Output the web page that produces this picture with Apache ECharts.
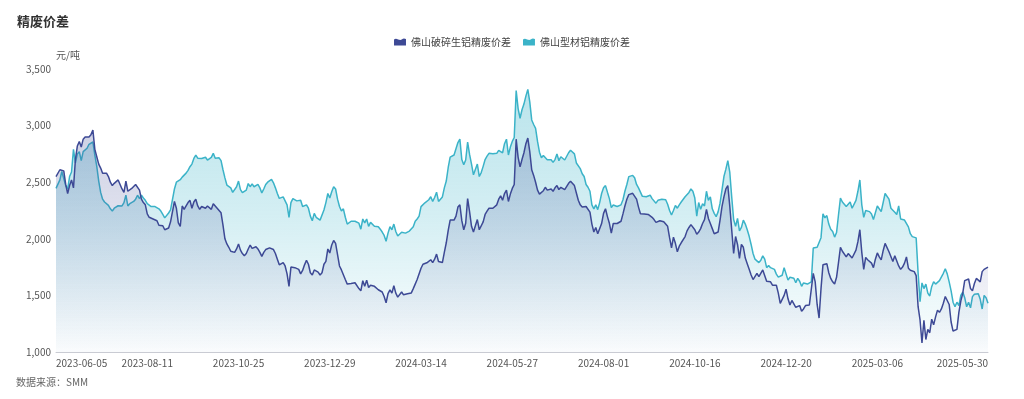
<!DOCTYPE html>
<html>
<head>
<meta charset="utf-8">
<script src="https://cdn.jsdelivr.net/npm/echarts@6/dist/echarts.min.js"></script>
<style>
html,body{margin:0;padding:0;background:#fff;}
#chart{width:1024px;height:399px;}
</style>
</head>
<body>
<div id="chart"></div>
<script>
// trading days, first / last day and exchange holidays
var startDay = '2023-06-05';
var endDay = '2025-05-30';
var holidays = [
	'2023-06-22','2023-06-23','2023-09-29','2023-10-02','2023-10-03','2023-10-04','2023-10-05','2023-10-06',
	'2024-01-01','2024-02-09','2024-02-12','2024-02-13','2024-02-14','2024-02-15','2024-02-16',
	'2024-04-04','2024-04-05','2024-05-01','2024-05-02','2024-05-03','2024-06-10','2024-09-16','2024-09-17',
	'2024-10-01','2024-10-02','2024-10-03','2024-10-04','2024-10-07',
	'2025-01-01','2025-01-28','2025-01-29','2025-01-30','2025-01-31','2025-02-03','2025-02-04',
	'2025-04-04','2025-05-01','2025-05-02','2025-05-05'
];

var seriesNames = ['佛山破碎生铝精废价差', '佛山型材铝精废价差'];

// 佛山破碎生铝精废价差
var brokenData = [
	2550,2540,2610,2620,2600,2480,2400,2470,2520,2450,2700,2820,2860,2810,2880,2900,2890,2900,2920,2960,
	2790,2725,2660,2625,2580,2570,2580,2550,2500,2470,2490,2505,2520,2535,2440,2410,2510,2420,2430,2445,
	2460,2480,2495,2430,2350,2320,2300,2220,2190,2180,2175,2170,2160,2120,2105,2115,2080,2070,2095,2150,
	2165,2330,2270,2140,2110,2290,2260,2290,2320,2340,2270,2325,2350,2290,2260,2285,2280,2270,2290,2300,
	2260,2310,2300,2270,2285,2230,2120,2000,1955,1925,1890,1875,1880,1910,1955,1900,1870,1850,1870,1910,
	1945,1915,1930,1930,1910,1880,1845,1880,1905,1915,1920,1930,1905,1870,1820,1770,1755,1790,1760,1690,
	1580,1750,1740,1745,1755,1730,1690,1720,1770,1810,1775,1700,1680,1725,1735,1705,1680,1700,1775,1800,
	1910,1875,1945,1985,1960,1860,1760,1725,1740,1640,1600,1595,1605,1610,1612,1595,1560,1540,1630,1580,
	1635,1570,1590,1600,1580,1565,1550,1540,1530,1490,1435,1515,1548,1520,1585,1520,1485,1500,1530,1505,
	1518,1515,1515,1522,1560,1600,1640,1655,1740,1775,1785,1788,1800,1815,1790,1820,1865,1800,1785,1790,
	1880,1965,2075,2165,2150,2165,2200,2280,2300,2160,2080,2137,2355,2240,2110,2060,2050,2170,2080,2090,
	2150,2215,2245,2270,2280,2270,2255,2300,2350,2380,2340,2400,2430,2330,2395,2445,2480,2880,2720,2635,
	2700,2760,2840,2890,2770,2610,2560,2500,2430,2395,2400,2425,2455,2430,2445,2440,2420,2450,2470,2435,
	2455,2445,2435,2430,2490,2508,2500,2470,2405,2340,2300,2280,2290,2285,2270,2235,2130,2060,2100,2045,
	2040,2135,2225,2265,2196,2137,2050,2135,2150,2135,2125,2155,2220,2290,2350,2390,2402,2402,2390,2350,
	2280,2222,2212,2220,2215,2215,2222,2190,2170,2145,2160,2160,2150,2150,2145,2110,2010,1920,2015,1960,
	1885,1935,1965,1960,2020,2070,2100,2125,2110,2080,2040,2060,2090,2135,2170,2260,2180,2135,2090,2045,
	2040,2060,2165,2285,2370,2440,2470,2290,2080,1870,2020,1950,1827,1950,1925,1830,1780,1730,1680,1640,
	1651,1695,1665,1680,1725,1735,1625,1610,1620,1590,1580,1590,1520,1430,1440,1500,1555,1470,1415,1455,
	1440,1395,1390,1410,1360,1380,1410,1400,1415,1400,1695,1620,1420,1300,1560,1770,1755,1780,1700,1650,
	1620,1600,1660,1790,1925,1890,1880,1840,1870,1880,1830,1820,1900,1975,2080,1880,1730,1835,1815,1800,
	1785,1745,1820,1875,1840,1813,1895,1960,1960,1886,1880,1800,1850,1840,1760,1730,1750,1785,1840,1740,
	1722,1710,1710,1675,1400,1283,1080,1280,1110,1200,1170,1290,1240,1310,1370,1350,1380,1430,1490,1505,
	1420,1265,1185,1180,1200,1350,1450,1520,1630,1622,1645,1560,1540,1605,1650,1650,1620,1710,1730,1742,1750
];

// 佛山型材铝精废价差
var profileData = [
	2445,2430,2520,2595,2580,2470,2440,2550,2590,2790,2670,2750,2770,2690,2770,2770,2800,2835,2845,2855,
	2740,2640,2510,2410,2350,2325,2315,2295,2265,2245,2270,2283,2292,2300,2290,2320,2385,2290,2310,2320,
	2330,2350,2385,2355,2385,2360,2340,2310,2295,2285,2285,2285,2283,2265,2245,2215,2185,2180,2228,2255,
	2265,2440,2500,2510,2522,2545,2558,2580,2605,2637,2660,2710,2740,2712,2722,2710,2705,2720,2696,2684,
	2720,2755,2711,2720,2715,2690,2610,2538,2475,2466,2450,2410,2420,2460,2510,2435,2408,2415,2430,2488,
	2460,2485,2460,2465,2480,2450,2405,2440,2480,2500,2515,2525,2495,2450,2400,2357,2345,2370,2360,2300,
	2190,2320,2355,2345,2335,2330,2340,2285,2298,2300,2270,2200,2160,2225,2190,2175,2165,2180,2255,2320,
	2400,2360,2416,2460,2440,2350,2285,2245,2265,2190,2130,2145,2155,2160,2155,2150,2138,2085,2175,2140,
	2175,2110,2145,2130,2110,2095,2107,2085,2060,2030,1978,2050,2107,2080,2130,2065,2025,2035,2058,2075,
	2050,2058,2068,2080,2107,2155,2175,2200,2284,2297,2318,2335,2345,2372,2330,2365,2412,2330,2335,2370,
	2450,2510,2630,2722,2713,2740,2745,2850,2880,2700,2655,2696,2855,2745,2660,2565,2560,2660,2550,2585,
	2640,2700,2730,2755,2768,2752,2742,2755,2782,2795,2760,2840,2880,2740,2810,2860,2895,3310,3150,3065,
	3140,3190,3260,3320,3210,3050,3010,2975,2860,2765,2715,2735,2720,2698,2710,2698,2675,2700,2750,2690,
	2725,2715,2696,2700,2760,2782,2775,2750,2670,2655,2620,2575,2550,2480,2455,2420,2300,2265,2300,2258,
	2320,2400,2450,2470,2412,2355,2275,2299,2310,2285,2290,2300,2345,2420,2480,2549,2550,2560,2540,2480,
	2450,2440,2375,2387,2372,2380,2385,2355,2343,2315,2340,2346,2350,2357,2345,2305,2250,2210,2250,2295,
	2270,2300,2325,2320,2372,2385,2410,2440,2420,2360,2200,2320,2260,2310,2290,2420,2340,2370,2265,2225,
	2196,2238,2315,2430,2550,2615,2690,2590,2372,2170,2110,2180,2070,2100,2165,2130,2080,2022,1950,1870,
	1820,1805,1790,1810,1850,1820,1745,1765,1745,1755,1730,1688,1662,1652,1678,1745,1740,1635,1660,1675,
	1652,1612,1650,1625,1580,1610,1615,1600,1592,1620,1918,1925,1925,1925,2010,2220,2185,2205,2130,2085,
	2065,2015,2055,2210,2360,2325,2310,2285,2285,2325,2270,2270,2340,2420,2520,2300,2190,2250,2255,2240,
	2220,2170,2230,2290,2305,2240,2228,2400,2395,2350,2270,2275,2235,2215,2290,2175,2166,2166,2170,2105,
	2045,2019,2015,2008,1700,1444,1610,1560,1600,1520,1495,1577,1620,1600,1590,1630,1640,1695,1735,1690,
	1620,1540,1440,1400,1440,1410,1500,1530,1480,1400,1440,1390,1489,1510,1505,1515,1465,1380,1500,1480,1430
];

var labelStep = 47;


function pad(n){
	return n < 10 ? '0' + n : '' + n;
}

function buildDays(){
	let days = [];
	let d = new Date(startDay + 'T00:00:00Z');
	let end = new Date(endDay + 'T00:00:00Z');
	while (d <= end){
		let s = d.getUTCFullYear() + '-' + pad(d.getUTCMonth() + 1) + '-' + pad(d.getUTCDate());
		let wd = d.getUTCDay();
		if (wd !== 0 && wd !== 6 && holidays.indexOf(s) < 0){
			days.push(s);
		}
		d.setUTCDate(d.getUTCDate() + 1);
	}
	return days;
}

var days = buildDays();
console.log(days.length, brokenData.length, profileData.length);

function areaGradient(r, g, b, top, mid, bottom){
	let c = 'rgba(' + r + ',' + g + ',' + b + ',';
	return new echarts.graphic.LinearGradient(0, 0, 0, 1, [
		{offset: 0, color: c + top + ')'},
		{offset: 0.5, color: c + mid + ')'},
		{offset: 1, color: c + bottom + ')'}
	]);
}

var myChart = echarts.init(document.getElementById('chart'), null, {renderer: 'canvas'});
var fontFamily = '"Noto Sans CJK SC", "Noto Sans", sans-serif';
var last = days.length - 1;
var legendIcon = 'path://M0,10 L0,3 C3,0 6,5 9,3 C11,1.5 12,1.5 14,2.5 L14,10 Z';

var option = {
	animation: false,
	textStyle: {fontFamily: fontFamily},
	title: {
		text: '精废价差',
		left: 12,
		top: 10,
		textStyle: {fontSize: 13, fontWeight: 'bold', color: '#333'}
	},
	graphic: [{
		type: 'text',
		left: 16,
		top: 377,
		style: {text: '数据来源：SMM', fontSize: 10, fill: '#666', fontFamily: fontFamily}
	}],
	legend: {
		top: 32,
		left: 'center',
		itemWidth: 12,
		itemHeight: 7,
		itemGap: 12,
		icon: legendIcon,
		textStyle: {fontSize: 10, color: '#444'},
		data: seriesNames
	},
	grid: {
		left: 56,
		right: 36,
		top: 69,
		bottom: 47
	},
	xAxis: {
		type: 'category',
		boundaryGap: false,
		data: days,
		axisLine: {lineStyle: {color: '#c9cbd3'}},
		axisTick: {show: false},
		axisLabel: {
			fontSize: 10,
			color: '#555',
			margin: 6,
			alignMinLabel: 'left',
			alignMaxLabel: 'right',
			interval: function(idx){
				return (idx % labelStep === 0 && last - idx > labelStep / 2) || idx === last;
			}
		}
	},
	yAxis: {
		type: 'value',
		min: 1000,
		max: 3500,
		interval: 500,
		name: '元/吨',
		nameLocation: 'end',
		nameGap: 9,
		nameTextStyle: {fontSize: 10, color: '#555', align: 'left'},
		axisLine: {show: false},
		axisTick: {show: false},
		splitLine: {show: false},
		axisLabel: {
			fontSize: 10,
			color: '#555',
			margin: 5,
			formatter: function(v){
				return v.toLocaleString('en-US');
			}
		}
	},
	series: [
		{
			name: seriesNames[0],
			type: 'line',
			data: brokenData,
			showSymbol: false,
			z: 3,
			lineStyle: {width: 1.5, color: '#3d4995'},
			itemStyle: {color: '#3d4995'},
			areaStyle: {color: areaGradient(61, 73, 149, 0.36, 0.2, 0.02)}
		},
		{
			name: seriesNames[1],
			type: 'line',
			data: profileData,
			showSymbol: false,
			z: 2,
			lineStyle: {width: 1.5, color: '#3bb3c8'},
			itemStyle: {color: '#3bb3c8'},
			areaStyle: {color: areaGradient(59, 179, 200, 0.5, 0.3, 0.02)}
		}
	]
};

myChart.setOption(option);
</script>
</body>
</html>
